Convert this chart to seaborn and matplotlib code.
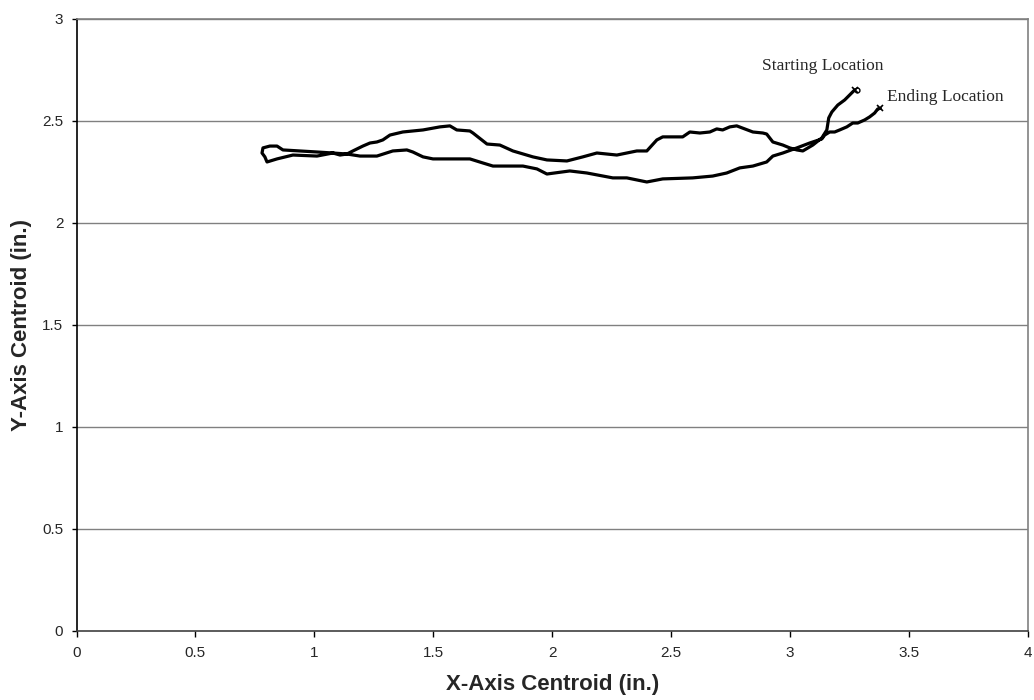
import pandas as pd
import matplotlib.pyplot as plt
import seaborn as sns

# centroid path, in order (start -> end)
x_centroid = [3.272, 3.230, 3.201, 3.176, 3.163, 3.155, 3.134, 3.096, 3.054, 3.029,
              2.999, 2.970, 2.928, 2.902, 2.886, 2.844, 2.810, 2.776, 2.747, 2.717,
              2.692, 2.663, 2.621, 2.579, 2.549, 2.465, 2.440, 2.398, 2.356, 2.272,
              2.188, 2.129, 2.062, 1.978, 1.919, 1.864, 1.835, 1.780, 1.726, 1.667,
              1.654, 1.599, 1.570, 1.528, 1.457, 1.372, 1.318, 1.288, 1.263, 1.234,
              1.204, 1.162, 1.137, 1.108, 1.078, 1.011, 0.939, 0.868, 0.843, 0.813,
              0.784, 0.780, 0.792, 0.801, 0.843, 0.910, 1.011, 1.078, 1.137, 1.192,
              1.263, 1.330, 1.389, 1.414, 1.457, 1.499, 1.583, 1.654, 1.709, 1.751,
              1.877, 1.936, 1.978, 2.074, 2.146, 2.255, 2.314, 2.398, 2.465, 2.591,
              2.675, 2.734, 2.789, 2.844, 2.902, 2.928, 2.970, 3.029, 3.083, 3.134,
              3.146, 3.167, 3.188, 3.209, 3.239, 3.264, 3.285, 3.314, 3.335, 3.356,
              3.369, 3.380]
y_centroid = [2.652, 2.603, 2.578, 2.544, 2.515, 2.456, 2.417, 2.382, 2.353, 2.358,
              2.368, 2.382, 2.397, 2.436, 2.441, 2.446, 2.461, 2.476, 2.471, 2.456,
              2.461, 2.446, 2.441, 2.446, 2.422, 2.422, 2.407, 2.353, 2.353, 2.333,
              2.343, 2.324, 2.304, 2.309, 2.324, 2.343, 2.353, 2.382, 2.387, 2.441,
              2.451, 2.456, 2.476, 2.471, 2.456, 2.446, 2.431, 2.407, 2.397, 2.392,
              2.377, 2.353, 2.338, 2.333, 2.343, 2.348, 2.353, 2.358, 2.377, 2.377,
              2.368, 2.343, 2.324, 2.299, 2.314, 2.333, 2.328, 2.343, 2.338, 2.328,
              2.328, 2.353, 2.358, 2.348, 2.324, 2.314, 2.314, 2.314, 2.294, 2.279,
              2.279, 2.265, 2.240, 2.255, 2.245, 2.221, 2.221, 2.201, 2.216, 2.221,
              2.230, 2.245, 2.270, 2.279, 2.299, 2.328, 2.343, 2.368, 2.392, 2.412,
              2.431, 2.446, 2.446, 2.456, 2.471, 2.490, 2.490, 2.505, 2.520, 2.539,
              2.559, 2.562]

x_ticks = [0, 0.5, 1, 1.5, 2, 2.5, 3, 3.5, 4]
x_tick_labels = ["0", "0.5", "1", "1.5", "2", "2.5", "3", "3.5", "4"]
y_ticks = [0, 0.5, 1, 1.5, 2, 2.5, 3]
y_tick_labels = ["0", "0.5", "1", "1.5", "2", "2.5", "3"]

df = pd.DataFrame({"x": x_centroid, "y": y_centroid})

sns.set_style("white")
plt.rcParams['font.family'] = ['Liberation Sans', 'DejaVu Sans']

fig = plt.figure(figsize=(10.34, 7), dpi=100)
ax = fig.add_axes([0.074, 0.0986, 0.920, 0.8743])

# horizontal grid like the original
for yv in y_ticks[1:]:
    ax.axhline(yv, color='#808080', linewidth=1, zorder=0)

sns.lineplot(data=df, x="x", y="y", sort=False, estimator=None,
             color='black', linewidth=2.3, ax=ax,
             solid_joinstyle='round', solid_capstyle='round')

# start and end markers
ax.plot(x_centroid[0], y_centroid[0], marker='x', color='black', markersize=4, mew=1.2)
ax.plot(x_centroid[0] + 0.01, y_centroid[0], marker='o', mfc='none', color='black',
        markersize=3.5, mew=1.0)
ax.plot(x_centroid[-1], y_centroid[-1], marker='x', color='black', markersize=4, mew=1.2)

ax.text(2.881, 2.77, "Starting Location", family=['Liberation Serif'], fontsize=12.5,
        ha='left', va='center')
ax.text(3.407, 2.618, "Ending Location", family=['Liberation Serif'], fontsize=12.5,
        ha='left', va='center')

ax.set_xlim(0, 4)
ax.set_ylim(0, 3)
ax.set_xticks(x_ticks)
ax.set_xticklabels(x_tick_labels, fontsize=11)
ax.set_yticks(y_ticks)
ax.set_yticklabels(y_tick_labels, fontsize=11)
ax.tick_params(axis='x', direction='out', length=4, width=1, color='black',
               bottom=True, pad=7)
ax.tick_params(axis='y', direction='out', length=3.5, width=1, color='black',
               left=True, pad=6)

ax.set_xlabel("X-Axis Centroid (in.)", fontsize=16, weight='bold', va='center')
ax.set_ylabel("Y-Axis Centroid (in.)", fontsize=16, weight='bold', va='center')
ax.xaxis.set_label_coords(0.5, -0.087)
ax.yaxis.set_label_coords(-0.058, 0.5)

ax.spines['left'].set_color('black')
ax.spines['bottom'].set_color('#404040')
ax.spines['right'].set_color('#808080')
ax.spines['top'].set_color('#808080')
for s in ax.spines.values():
    s.set_linewidth(1.2)

fig.savefig("out.png", dpi=100, facecolor='white')
